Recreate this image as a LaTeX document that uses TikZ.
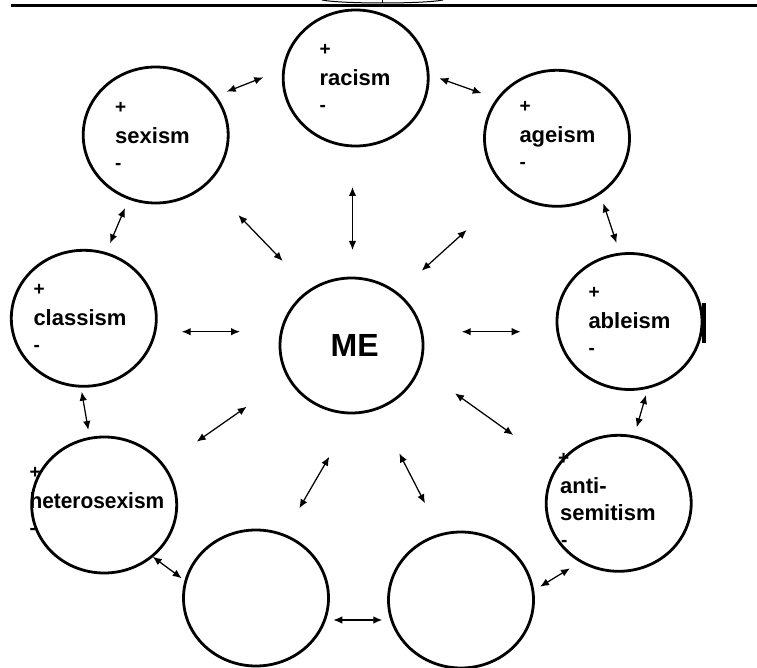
\documentclass[tikz,border=0pt]{standalone}
\usepackage{fontspec}
\setmainfont{Liberation Sans}
\usetikzlibrary{shapes.geometric, arrows.meta}
\tikzset{
  ism/.style={ellipse, draw, line width=2.8pt, minimum width=145pt, minimum height=136pt, inner sep=0pt, outer sep=0pt},
  wordtext/.style={font=\bfseries\fontsize{22}{26}\selectfont, inner sep=0pt, anchor=base west},
  pmtext/.style={font=\bfseries\fontsize{19}{22}\selectfont, inner sep=0pt, anchor=base west},
  link/.style={{Latex[length=9pt,width=7.5pt]}-{Latex[length=9pt,width=7.5pt]}, line width=1.25pt},
}
\newcommand{\ismlabel}[4]{%
  \node[pmtext] (#1p) at (#2,{#3-30}) {+};
  \node[wordtext] (#1t) at (#2,#3) {#4};
  \node[pmtext] (#1m) at (#2,{#3+25.5}) {-};
}
\begin{document}
\begin{tikzpicture}[x=1pt, y=-1pt]
\useasboundingbox (0,0) rectangle (757,668);
% top rule and fragment
\draw[line width=3pt] (11,6) -- (757,6);
\draw[line width=1pt] (322,0) .. controls (342,4) and (423,4) .. (443,0);
\draw[line width=1pt] (382,0) -- (382,2.6);
% circles
\node[ism] (racism) at (355.7,78) {};
\node[ism] (sexism) at (155.7,135) {};
\node[ism] (ageism) at (557,138.3) {};
\node[ism] (classism) at (83.8,318.3) {};
\node[ism, minimum width=143pt, minimum height=135pt] (me) at (351.5,345.5) {};
\node[ism] (ableism) at (629.5,321.5) {};
\node[ism] (hetero) at (104.2,505) {};
\node[ism] (antisem) at (618.7,503.3) {};
\node[ism] (blankL) at (256,598) {};
\node[ism] (blankR) at (461,600) {};
\fill (701.7,303) rectangle (705.5,343);
% labels
\ismlabel{rac}{319.3}{86}{racism}
\ismlabel{sex}{115}{143.7}{sexism}
\ismlabel{age}{519.3}{143}{ageism}
\ismlabel{cla}{33.3}{325.5}{classism}
\ismlabel{abl}{588.3}{328.7}{ableism}
\ismlabel{het}{29.3}{508.7}{\scalebox{0.95}[1]{heterosexism}}
\node[pmtext] (antp) at (558,464.3) {+};
\node[wordtext] (antt1) at (560,493.7) {anti-};
\node[wordtext] (antt2) at (560,520.3) {semitism};
\node[pmtext] (antm) at (561,546.2) {-};
\node[font=\bfseries\fontsize{32}{36}\selectfont, inner sep=0pt, anchor=base west] (metext) at (330.5,356.7) {ME};
% connector end points
\coordinate (c1a) at (226.7,91.7);  \coordinate (c1b) at (263.3,77.3);
\coordinate (c2a) at (439.3,78.3);  \coordinate (c2b) at (481.7,93.3);
\coordinate (c3a) at (603.3,203.3); \coordinate (c3b) at (616.5,243);
\coordinate (c4a) at (646,395);     \coordinate (c4b) at (636.7,427.3);
\coordinate (c5a) at (570,568.3);   \coordinate (c5b) at (540,586.7);
\coordinate (c6a) at (382.3,620);   \coordinate (c6b) at (333.3,620);
\coordinate (c7a) at (181.7,578.3); \coordinate (c7b) at (152.7,556.7);
\coordinate (c8a) at (88.3,430);    \coordinate (c8b) at (81.7,391.7);
\coordinate (c9a) at (110,243.3);   \coordinate (c9b) at (125,208);
\coordinate (m1a) at (352.5,187);   \coordinate (m1b) at (352.5,250);
\coordinate (m2a) at (238.3,215);   \coordinate (m2b) at (282.7,261);
\coordinate (m3a) at (466.7,230);   \coordinate (m3b) at (421.7,270.7);
\coordinate (m4a) at (181.7,331.7); \coordinate (m4b) at (240,331.7);
\coordinate (m5a) at (461.7,331.7); \coordinate (m5b) at (520.7,331.7);
\coordinate (m6a) at (246.7,406.7); \coordinate (m6b) at (196.7,441.7);
\coordinate (m7a) at (455,393.3);   \coordinate (m7b) at (513.3,435);
\coordinate (m8a) at (329.3,456.7); \coordinate (m8b) at (299.3,508.3);
\coordinate (m9a) at (399.3,453.3); \coordinate (m9b) at (425,503.3);
\foreach \p in {c1,c2,c3,c4,c5,c6,c7,c8,c9,m1,m2,m3,m4,m5,m6,m7,m8,m9}
  \draw[link] (\p a) -- (\p b);
\end{tikzpicture}
\end{document}
